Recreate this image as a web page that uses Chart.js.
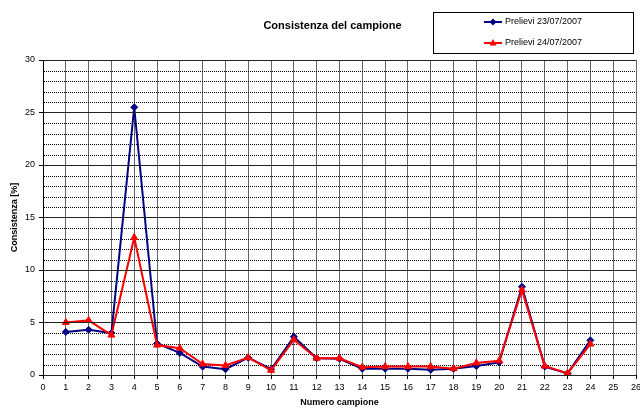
<!DOCTYPE html>
<html>
<head>
<meta charset="utf-8">
<script src="https://cdn.jsdelivr.net/npm/chart.js@4/dist/chart.umd.min.js"></script>
<style>
  body { margin: 0; background: #fff; }
  #wrap { width: 640px; height: 408px; }
</style>
</head>
<body>
<div id="wrap"><canvas id="chart" width="640" height="408"></canvas></div>
<script>
// dati
var campioni = [1, 2, 3, 4, 5, 6, 7, 8, 9, 10, 11, 12, 13, 14, 15, 16, 17, 18, 19, 20, 21, 22, 23, 24];
var prelievi23 = [4.1, 4.3, 4.0, 25.5, 3.0, 2.1, 0.8, 0.55, 1.65, 0.55, 3.65, 1.6, 1.55, 0.6, 0.6, 0.6, 0.5, 0.6, 0.85, 1.2, 8.4, 0.8, 0.15, 3.3];
var prelievi24 = [5.0, 5.2, 3.8, 13.1, 2.85, 2.55, 1.05, 0.9, 1.65, 0.45, 3.35, 1.6, 1.6, 0.75, 0.8, 0.8, 0.8, 0.6, 1.15, 1.35, 8.1, 0.85, 0.15, 2.95];
var nomiSerie = ['Prelievi 23/07/2007', 'Prelievi 24/07/2007'];
var yTicks = [0, 5, 10, 15, 20, 25, 30];

function punti(vals) {
    return campioni.map(function (c, i) { return { x: c, y: vals[i] }; });
}

// griglia secondaria punteggiata (ogni unità)
var grigliaMinore = {
    id: 'grigliaMinore',
    beforeDatasetsDraw: function (chart) {
        var ctx = chart.ctx, area = chart.chartArea, y = chart.scales.y;
        ctx.save();
        ctx.strokeStyle = '#000';
        ctx.lineWidth = 1;
        ctx.setLineDash([1, 1]);
        for (var v = 1; v < 30; v++) {
            if (v % 5 === 0) continue;
            var py = Math.round(y.getPixelForValue(v)) + 0.5;
            ctx.beginPath();
            ctx.moveTo(area.left + 1, py);
            ctx.lineTo(area.right, py);
            ctx.stroke();
        }
        ctx.restore();
    }
};

// titolo e legenda con riquadro
var decorazioni = {
    id: 'decorazioni',
    afterDraw: function (chart) {
        var ctx = chart.ctx;
        ctx.save();
        ctx.fillStyle = '#000';
        ctx.font = 'bold 11px "Liberation Sans", Arial, sans-serif';
        ctx.textAlign = 'center';
        ctx.textBaseline = 'middle';
        ctx.fillText('Consistenza del campione', 332.5, 26);

        ctx.strokeStyle = '#000';
        ctx.lineWidth = 1;
        ctx.strokeRect(433.5, 12.5, 200, 41);

        var righe = [22, 43];
        chart.data.datasets.forEach(function (ds, i) {
            var y = righe[i];
            ctx.strokeStyle = ds.borderColor;
            ctx.lineWidth = 2;
            ctx.beginPath();
            ctx.moveTo(484, y);
            ctx.lineTo(502, y);
            ctx.stroke();
            ctx.fillStyle = ds.borderColor;
            ctx.beginPath();
            if (ds.pointStyle === 'rectRot') {
                ctx.moveTo(493, y - 3.5);
                ctx.lineTo(496.5, y);
                ctx.lineTo(493, y + 3.5);
                ctx.lineTo(489.5, y);
            } else {
                ctx.moveTo(493, y - 4);
                ctx.lineTo(496.5, y + 2.5);
                ctx.lineTo(489.5, y + 2.5);
            }
            ctx.closePath();
            ctx.fill();
            ctx.fillStyle = '#000';
            ctx.font = '9px "Liberation Sans", Arial, sans-serif';
            ctx.textAlign = 'left';
            ctx.fillText(nomiSerie[i], 505, y);
        });
        ctx.restore();
    }
};

document.addEventListener('DOMContentLoaded', function () {
    var ctx = document.getElementById('chart').getContext('2d');
    Chart.defaults.font.family = '"Liberation Sans", Arial, sans-serif';
    Chart.defaults.color = '#000';

    new Chart(ctx, {
        type: 'line',
        data: {
            datasets: [{
                label: nomiSerie[0],
                data: punti(prelievi23),
                borderColor: '#000080',
                backgroundColor: '#000080',
                borderWidth: 2,
                pointStyle: 'rectRot',
                pointRadius: 3.5,
                pointBorderWidth: 1,
                order: 2
            }, {
                label: nomiSerie[1],
                data: punti(prelievi24),
                borderColor: '#ff0000',
                backgroundColor: '#ff0000',
                borderWidth: 2,
                pointStyle: 'triangle',
                pointRadius: 4,
                pointBorderWidth: 1,
                order: 1
            }]
        },
        options: {
            responsive: false,
            animation: false,
            layout: { autoPadding: false, padding: { top: 60, left: 0, right: 4, bottom: 0 } },
            plugins: {
                legend: { display: false },
                title: { display: false },
                tooltip: { enabled: false }
            },
            scales: {
                x: {
                    type: 'linear',
                    min: 0,
                    max: 26,
                    afterFit: function (s) {
                        s.height = 33;
                        s.paddingLeft = 0;
                        s.paddingRight = 0;
                    },
                    afterBuildTicks: function (s) {
                        var t = [];
                        for (var i = 0; i <= 26; i++) t.push({ value: i });
                        s.ticks = t;
                    },
                    ticks: { font: { size: 9 }, padding: 3, maxRotation: 0, autoSkip: false },
                    grid: { color: '#666', lineWidth: 1, tickLength: 4, tickColor: '#000' },
                    border: { color: '#000', width: 1 },
                    title: {
                        display: true,
                        text: 'Numero campione',
                        font: { size: 9, weight: 'bold' },
                        padding: { top: 0, bottom: 0 }
                    }
                },
                y: {
                    min: 0,
                    max: 30,
                    afterFit: function (s) {
                        s.width = 43;
                        s.paddingTop = 0;
                        s.paddingBottom = 0;
                    },
                    afterBuildTicks: function (s) {
                        s.ticks = yTicks.map(function (v) { return { value: v }; });
                    },
                    ticks: { font: { size: 9 }, padding: 4 },
                    grid: { color: '#222', lineWidth: 1, tickLength: 4, tickColor: '#000', z: 1 },
                    border: { color: '#000', width: 1, z: 2 },
                    title: {
                        display: true,
                        text: 'Consistenza [%]',
                        font: { size: 9, weight: 'bold' },
                        padding: { top: 9.5, bottom: 0 }
                    }
                }
            }
        },
        plugins: [grigliaMinore, decorazioni]
    });
});
</script>
</body>
</html>
